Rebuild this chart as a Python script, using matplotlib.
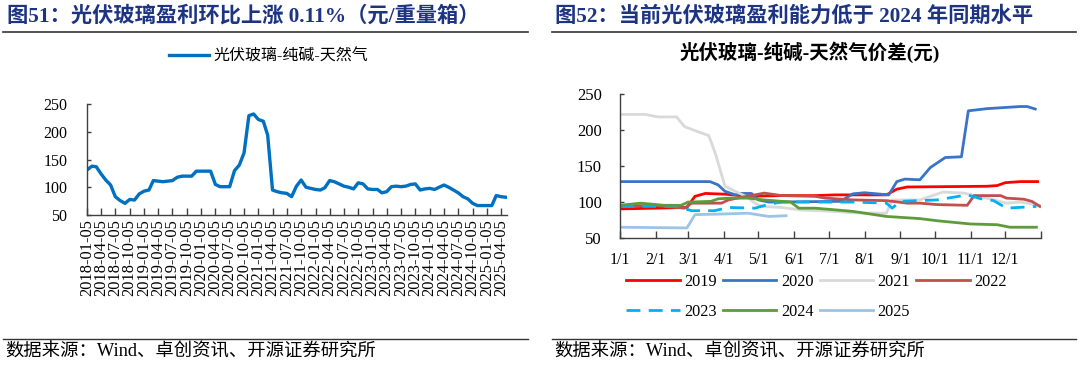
import numpy as np
import pandas as pd
import matplotlib
matplotlib.use("Agg")
import matplotlib.pyplot as plt
from matplotlib.lines import Line2D

plt.rcParams['font.family'] = ['Liberation Serif', 'Noto Sans CJK SC']
plt.rcParams['axes.unicode_minus'] = False

########## data: left chart (monthly) ##########
left_label = "光伏玻璃-纯碱-天然气"
left_values = [131, 138, 137, 124, 113, 104, 83, 76, 71, 78, 77, 88,
               93, 95, 112, 111, 110, 111, 112, 118, 120, 120, 120, 129,
               129, 129, 129, 105, 101, 101, 101, 130, 140, 162, 229, 232,
               222, 219, 194, 95, 92, 90, 89, 83, 102, 113, 100, 98,
               96, 95, 99, 112, 110, 106, 102, 100, 97, 108, 106, 97,
               96, 96, 90, 92, 101, 102, 101, 102, 105, 106, 95, 97,
               98, 96, 100, 104, 100, 95, 90, 83, 79, 71, 67, 67,
               67, 67, 85, 83, 82]
left_dates = pd.date_range("2018-01-01", periods=len(left_values), freq="MS") + pd.Timedelta(days=4)
left_ticks = pd.date_range("2018-01-01", "2025-04-01", freq="3MS") + pd.Timedelta(days=4)

########## data: right chart (day of year, value) ##########
years = ["2019", "2020", "2021", "2022", "2023", "2024", "2025"]
days_2019 = [0, 30, 58, 65, 74, 91, 111, 140, 169, 186, 231, 240, 249, 318, 327, 334, 347, 362]
vals_2019 = [90.5, 91.5, 92.5, 108, 112, 111, 108, 109, 109, 110, 110, 118, 121, 122, 123, 127, 128.5, 128.5]
days_2020 = [0, 78, 85, 91, 100, 104, 114, 120, 129, 191, 202, 212, 233, 240, 247, 260, 269, 282, 296, 302, 318, 347, 353, 360]
vals_2020 = [128.5, 128.5, 124, 115, 110, 112, 112, 103, 100, 101, 111.5, 113, 110, 128.5, 132, 131, 148, 162, 163, 227, 230, 233, 233, 229.5]
days_2021 = [0, 22, 33, 49, 56, 65, 77, 83, 91, 100, 109, 117, 123, 140, 157, 186, 202, 231, 236, 260, 280, 298, 318, 335, 347, 364]
vals_2021 = [222, 222, 218.5, 218.5, 205, 199.5, 192.5, 166, 122, 115, 108, 98.5, 94, 92.5, 89, 87, 85, 84.5, 103, 103, 114, 112.5, 105.5, 98.5, 100, 95.5]
days_2022 = [0, 28, 56, 62, 88, 94, 105, 117, 125, 140, 169, 178, 202, 231, 249, 260, 275, 301, 307, 330, 335, 350, 357, 364]
vals_2022 = [94, 95.5, 91.5, 98.5, 98.5, 103, 106.5, 110, 112.5, 109, 108, 105.5, 103, 102, 98.5, 98.5, 96.5, 95.5, 109, 109, 105.5, 104, 101, 94]
days_2023 = [0, 50, 62, 82, 94, 117, 129, 140, 202, 231, 236, 243, 275, 301, 313, 324, 335, 361]
vals_2023 = [94, 94, 88, 88, 92.5, 91.5, 97, 100, 100, 98.5, 91.5, 101, 103, 110, 104.5, 102, 91.5, 94]
days_2024 = [0, 18, 38, 53, 59, 79, 85, 96, 111, 125, 148, 155, 169, 188, 202, 231, 260, 275, 304, 327, 338, 361]
vals_2024 = [95.5, 98.5, 95.5, 95.5, 100, 101, 104.5, 105.5, 105.5, 103, 100, 91.5, 91.5, 89, 87, 80, 77, 74, 69.5, 68.5, 65, 65]
days_2025 = [0, 58, 65, 91, 111, 129, 144]
vals_2025 = [65, 64, 82.5, 83.5, 84.5, 80, 81]

month_starts = [0, 31, 59, 90, 120, 151, 181, 212, 243, 273, 304, 334, 365]
month_labels = ["1/1", "2/1", "3/1", "4/1", "5/1", "6/1", "7/1", "8/1", "9/1", "10/1", "11/1", "12/1", ""]

series = {
    "2019": (days_2019, vals_2019, "#FF0000", "-"),
    "2020": (days_2020, vals_2020, "#3A74C6", "-"),
    "2021": (days_2021, vals_2021, "#D9D9D9", "-"),
    "2022": (days_2022, vals_2022, "#C0504D", "-"),
    "2023": (days_2023, vals_2023, "#00B0F0", "--"),
    "2024": (days_2024, vals_2024, "#5E9B3A", "-"),
    "2025": (days_2025, vals_2025, "#9DC3E6", "-"),
}
########################################

W, H = 1080, 366
fig = plt.figure(figsize=(W / 100, H / 100), dpi=100)
title_color = "#1D3483"
spine_color = "#404040"


def fx(px):
    return px / W


def fy(py):
    return 1 - py / H


def style_axes(ax):
    for s in ["top", "right"]:
        ax.spines[s].set_visible(False)
    for s in ["left", "bottom"]:
        ax.spines[s].set_color(spine_color)
        ax.spines[s].set_linewidth(1.0)


##### titles, rules, footers
fig.text(fx(7), fy(16), "图51：光伏玻璃盈利环比上涨 0.11%（元/重量箱）", fontsize=15.3,
         fontweight="bold", color=title_color, va="center", ha="left")
fig.text(fx(555), fy(16), "图52：当前光伏玻璃盈利能力低于 2024 年同期水平", fontsize=15.3,
         fontweight="bold", color=title_color, va="center", ha="left")
for x0, x1 in [(3, 528), (552, 1076)]:
    fig.add_artist(Line2D([fx(x0), fx(x1)], [fy(32), fy(32)], color="#333333", lw=1.2))
    fig.add_artist(Line2D([fx(x0), fx(x1)], [fy(339), fy(339)], color="#333333", lw=1.0))
fig.text(fx(5), fy(352), "数据来源：Wind、卓创资讯、开源证券研究所", fontsize=13.2, va="center", ha="left")
fig.text(fx(554), fy(352), "数据来源：Wind、卓创资讯、开源证券研究所", fontsize=13.2, va="center", ha="left")

########## LEFT CHART ##########
ax1 = fig.add_axes([fx(87), fy(215), fx(507 - 87), (215 - 104) / H])
style_axes(ax1)
line1, = ax1.plot(left_dates, left_values, color="#0070C0", lw=2.4)
ax1.set_ylim(50, 250)
ax1.set_yticks([50, 100, 150, 200, 250])
ax1.set_xlim(pd.Timestamp("2018-01-05"), pd.Timestamp("2025-05-13"))
ax1.set_xticks(left_ticks)
ax1.set_xticklabels([d.strftime("%Y-%m-%d") for d in left_ticks], rotation=90)
ax1.tick_params(axis="x", direction="in", length=5, width=1, color=spine_color, labelsize=11.8, pad=3)
ax1.tick_params(axis="y", direction="in", length=3, width=1, color=spine_color, labelsize=11.5, pad=14)
fig.legend([line1], [left_label], loc="center left", bbox_to_anchor=(fx(169), fy(57)),
           frameon=False, fontsize=11.5, handlelength=2.5, handletextpad=0.3,
           borderpad=0, borderaxespad=0)

########## RIGHT CHART ##########
fig.text(fx(810), fy(52), "光伏玻璃-纯碱-天然气价差(元)", fontsize=14, fontweight="bold",
         ha="center", va="center")
ax2 = fig.add_axes([fx(620), fy(238), fx(1041 - 620), (238 - 94.3) / H])
style_axes(ax2)
handles = {}
for y in years:
    d, v, c, ls = series[y]
    if ls == "--":
        h, = ax2.plot(d, v, color=c, lw=2, dashes=(5, 3), label=y)
    else:
        h, = ax2.plot(d, v, color=c, lw=2, label=y)
    handles[y] = h
ax2.set_xlim(0, 365)
ax2.set_ylim(50, 250)
ax2.set_yticks([50, 100, 150, 200, 250])
ax2.set_xticks(month_starts)
ax2.set_xticklabels(month_labels)
ax2.tick_params(axis="x", direction="in", length=5, width=1, color=spine_color, labelsize=11.5, pad=10)
ax2.tick_params(axis="y", direction="in", length=3, width=1, color=spine_color, labelsize=12, pad=13)

# legend is filled column by column, so reorder to get rows 2019-2022 / 2023-2025
order = ["2019", "2023", "2020", "2024", "2021", "2025", "2022"]
fig.legend([handles[k] for k in order], order, loc="upper left", ncol=4,
           bbox_to_anchor=(fx(626), fy(274)), frameon=False, fontsize=11.7,
           handlelength=3.3, handletextpad=0.27, columnspacing=0.38, labelspacing=0.85,
           borderpad=0, borderaxespad=0)

fig.savefig("out.png", dpi=100)
